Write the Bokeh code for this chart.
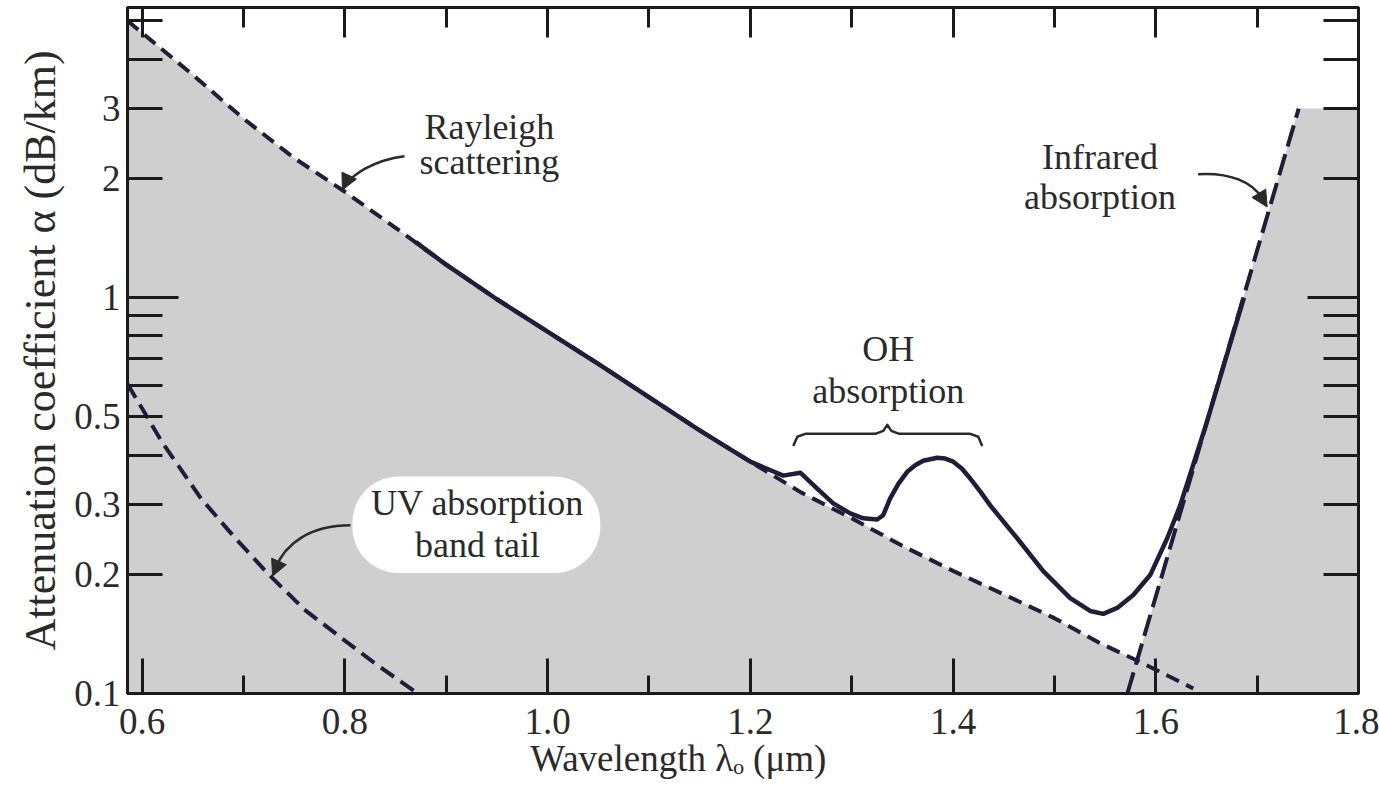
from bokeh.plotting import figure
from bokeh.models import (Range1d, FixedTicker, LinearAxis, LogAxis, BoxAnnotation,
                          Label, Arrow, NormalHead)
from bokeh.embed import file_html
from bokeh.resources import INLINE

# ---------------- data ----------------
rayleigh_wl = [0.5856, 0.65, 0.70, 0.75, 0.80, 0.85, 0.90, 0.95, 1.00, 1.05, 1.10, 1.15,
               1.20, 1.25, 1.30, 1.35, 1.40, 1.45, 1.50, 1.545, 1.582, 1.637]
rayleigh_att = [5.0, 3.65, 2.83, 2.25, 1.85, 1.50, 1.21, 0.99, 0.82, 0.68, 0.56, 0.462,
                0.385, 0.322, 0.277, 0.236, 0.204, 0.178, 0.155, 0.134, 0.121, 0.103]

uv_wl = [0.5856, 0.62, 0.658, 0.69, 0.724, 0.76, 0.80, 0.83, 0.872]
uv_att = [0.605, 0.43, 0.311, 0.25, 0.201, 0.163, 0.136, 0.119, 0.10]

ir_wl = [1.572, 1.741]
ir_att = [0.10, 3.0]
ir_cap_wl = [1.741, 1.80]
ir_cap_att = [3.0, 3.0]

total_wl = [0.87, 0.90, 0.95, 1.00, 1.05, 1.10, 1.15, 1.20, 1.2325, 1.2493, 1.2660,
            1.2818, 1.2986, 1.3114, 1.3252, 1.3311, 1.3380, 1.3462, 1.3548, 1.3627,
            1.3706, 1.3844, 1.3923, 1.4002, 1.4086, 1.4170, 1.4268, 1.4367, 1.4633,
            1.4890, 1.5156, 1.5353, 1.5482, 1.5620, 1.5778, 1.5945, 1.6113, 1.6241,
            1.65, 1.687]
total_att = [1.38, 1.21, 0.99, 0.82, 0.68, 0.56, 0.462, 0.385, 0.355, 0.361, 0.329,
             0.302, 0.285, 0.277, 0.275, 0.282, 0.311, 0.339, 0.363, 0.377,
             0.387, 0.394, 0.392, 0.385, 0.370, 0.349, 0.324, 0.2985, 0.2466,
             0.2037, 0.1742, 0.1616, 0.1589, 0.1645, 0.1773, 0.1991, 0.2466, 0.2985,
             0.481, 1.0]

x_major = [0.6, 0.8, 1.0, 1.2, 1.4, 1.6, 1.8]
x_major_labels = ["0.6", "0.8", "1.0", "1.2", "1.4", "1.6", "1.8"]
x_minor = [0.7, 0.9, 1.1, 1.3, 1.5, 1.7]
y_labeled = [0.1, 0.2, 0.3, 0.5, 1.0, 2.0, 3.0]
y_labels = ["0.1", "0.2", "0.3", "0.5", "1", "2", "3"]
y_long = [0.1, 1.0]
y_short = [0.2, 0.3, 0.4, 0.5, 0.6, 0.7, 0.8, 0.9, 2.0, 3.0, 4.0, 5.0]

# ---------------- style ----------------
GREY = "#cfcfcf"
INK = "#1f1d38"
AX = "#1a1a1a"
TXT = "#2a2a2a"
FONT = "Liberation Serif"

p = figure(width=1379, height=791, x_range=Range1d(0.5856, 1.80),
           y_range=Range1d(0.1, 5.4), y_axis_type="log",
           output_backend="svg", toolbar_location=None,
           min_border_left=127, min_border_right=21, min_border_top=7, min_border_bottom=98)
p.xgrid.visible = False
p.ygrid.visible = False
p.outline_line_color = AX
p.outline_line_width = 3
p.background_fill_color = "white"
p.border_fill_color = "white"

# fills
p.varea(x=rayleigh_wl, y1=[0.1] * len(rayleigh_wl), y2=rayleigh_att, fill_color=GREY)
fill_ir_wl = ir_wl + ir_cap_wl[1:]
fill_ir_att = ir_att + ir_cap_att[1:]
p.varea(x=fill_ir_wl, y1=[0.1] * len(fill_ir_wl), y2=fill_ir_att, fill_color=GREY)

# curves
p.line(rayleigh_wl, rayleigh_att, line_color=INK, line_width=4, line_dash="14 8")
p.line(uv_wl, uv_att, line_color=INK, line_width=4, line_dash="16 8")
p.line(ir_wl, ir_att, line_color=INK, line_width=4, line_dash="22 8")
p.line(total_wl, total_att, line_color=INK, line_width=4.5, line_join="round")

# axes
def style_axis(ax, major_in, minor_in):
    ax.major_tick_in = major_in
    ax.major_tick_out = 0
    ax.minor_tick_in = minor_in
    ax.minor_tick_out = 0
    ax.major_tick_line_color = AX
    ax.minor_tick_line_color = AX
    ax.major_tick_line_width = 3
    ax.minor_tick_line_width = 3
    ax.axis_line_color = AX
    ax.axis_line_width = 3
    ax.major_label_text_font = FONT
    ax.major_label_text_color = TXT
    ax.major_label_text_font_size = "37px"
    ax.axis_label_text_font = FONT
    ax.axis_label_text_font_style = "normal"
    ax.axis_label_text_color = TXT

xa = p.xaxis[0]
xa.ticker = FixedTicker(ticks=x_major, minor_ticks=x_minor)
xa.major_label_overrides = dict(zip(x_major, x_major_labels))
style_axis(xa, 35, 18)
xa.major_label_standoff = 15
xa.axis_label = "Wavelength  λₒ (μm)" + "\u00a0" * 13
xa.axis_label_text_font_size = "37px"
xa.axis_label_standoff = 1

# left: tick-only axis next to the frame
ya = p.yaxis[0]
ya.ticker = FixedTicker(ticks=y_long, minor_ticks=y_short)
ya.major_label_overrides = {t: "" for t in y_long}
style_axis(ya, 51, 35)
ya.major_label_standoff = 0

# left: labelled axis (no tick marks)
yl = LogAxis(ticker=FixedTicker(ticks=y_labeled),
             major_label_overrides=dict(zip(y_labeled, y_labels)))
style_axis(yl, 0, 0)
yl.axis_line_color = None
yl.major_tick_line_color = None
yl.minor_tick_line_color = None
yl.major_label_standoff = 7
yl.axis_label = "Attenuation coefficient α (dB/km)"
yl.axis_label_text_font_size = "44px"
yl.axis_label_standoff = 6
p.add_layout(yl, "left")

top = LinearAxis(ticker=FixedTicker(ticks=x_major, minor_ticks=x_minor),
                 major_label_overrides={t: "" for t in x_major})
style_axis(top, 30, 20)
top.major_label_standoff = 0
p.add_layout(top, "above")

right = LogAxis(ticker=FixedTicker(ticks=y_long, minor_ticks=y_short),
                major_label_overrides={t: "" for t in y_long})
style_axis(right, 51, 35)
right.major_label_standoff = 0
p.add_layout(right, "right")

# annotations
p.add_layout(BoxAnnotation(left=0.8075, right=1.052, top=0.353, bottom=0.2014,
                           fill_color="white", fill_alpha=1, line_alpha=0,
                           border_radius=46, level="overlay"))

def lab(x, y, t):
    p.add_layout(Label(x=x, y=y, text=t, text_font=FONT, text_font_size="36px",
                       text_color=TXT, text_align="center", text_baseline="middle",
                       level="overlay"))

lab(0.9426, 2.69, "Rayleigh")
lab(0.9426, 2.20, "scattering")
lab(0.9309, 0.302, "UV absorption")
lab(0.9309, 0.2368, "band tail")
lab(1.336, 0.740, "OH")
lab(1.336, 0.580, "absorption")
lab(1.545, 2.262, "Infrared")
lab(1.545, 1.794, "absorption")

# brace over OH region
brace_x = [1.2424, 1.2464, 1.2543, 1.3233, 1.3312, 1.3351, 1.3391, 1.3470, 1.4170, 1.4249, 1.4288]
brace_y = [0.422, 0.445, 0.4526, 0.4526, 0.4606, 0.477, 0.4606, 0.4526, 0.4526, 0.445, 0.422]
p.line(brace_x, brace_y, line_color=TXT, line_width=2.5, line_join="round")

# curved arrows
p.bezier(x0=[0.8588, 0.8055, 1.6418], y0=[2.275, 0.2659, 2.049],
         x1=[0.8006, 0.7316, 1.7049], y1=[1.922, 0.2073, 1.783],
         cx0=[0.8272, 0.7661, 1.6734], cy0=[2.222, 0.2659, 2.073],
         cx1=[0.8075, 0.7414, 1.6951], cy1=[2.037, 0.2395, 1.956],
         line_color=TXT, line_width=2.5)
for xs, ys, xe, ye in [(0.8045, 2.037, 0.7976, 1.868),
                       (0.7356, 0.2171, 0.7287, 0.1979),
                       (1.7010, 1.846, 1.7099, 1.693)]:
    p.add_layout(Arrow(end=NormalHead(size=16, fill_color=TXT, line_color=TXT),
                       x_start=xs, y_start=ys, x_end=xe, y_end=ye,
                       line_color=TXT, line_width=2.5))

open("out.html", "w").write(file_html(p, INLINE))
